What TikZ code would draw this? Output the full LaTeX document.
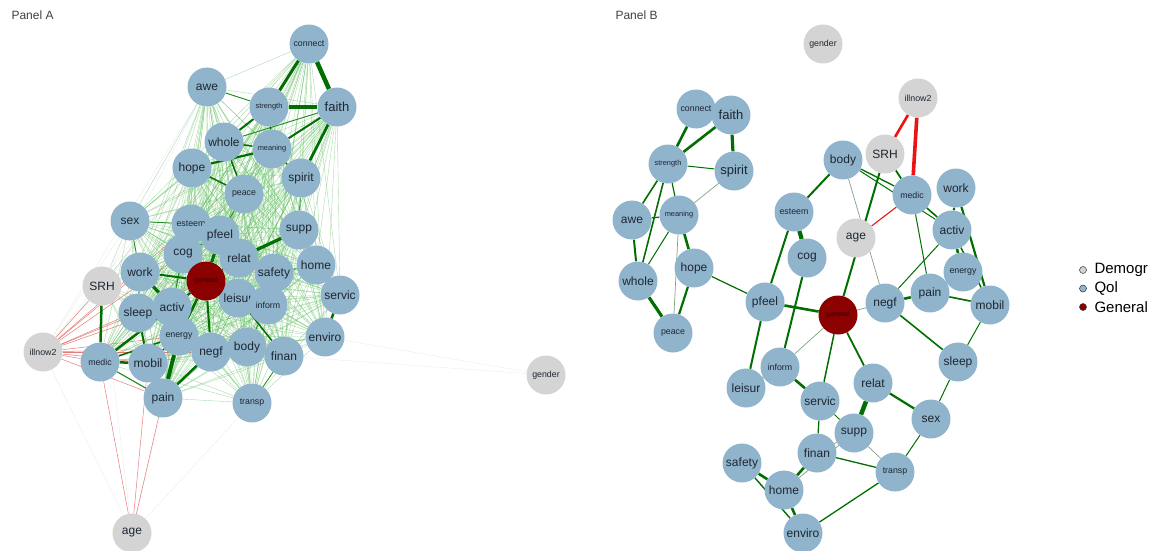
\documentclass[tikz,border=0pt]{standalone}
\usepackage{fontspec}
\setmainfont{Liberation Sans}
\pgfdeclarelayer{background}
\pgfsetlayers{background,main}
\definecolor{qolc}{RGB}{143,180,204}
\definecolor{democ}{RGB}{212,212,212}
\definecolor{genc}{RGB}{139,0,0}
\definecolor{lblc}{RGB}{30,38,50}
\definecolor{egreen}{RGB}{0,110,0}
\definecolor{emid}{RGB}{30,140,30}
\definecolor{elight}{RGB}{100,190,100}
\definecolor{efaint}{RGB}{130,160,130}
\definecolor{ered}{RGB}{235,20,20}
\definecolor{epink}{RGB}{225,90,90}
\tikzset{
  vtx/.style={circle, minimum size=39pt, inner sep=0pt, text=lblc,
              font=\fontsize{12}{12}\selectfont},
  qn/.style={vtx, fill=qolc},
  dn/.style={vtx, fill=democ},
  gn/.style={vtx, fill=genc, text={rgb,255:red,55;green,0;blue,0},
             font=\fontsize{7}{8}\selectfont},
  sm/.style={font=\fontsize{8.8}{9}\selectfont},
  xs/.style={font=\fontsize{7.4}{8}\selectfont},
  pe/.style={draw=egreen, line width=#1pt},
  me/.style={draw=emid, line width=#1pt},
  fe/.style={draw=efaint, line width=#1pt},
  ne/.style={draw=ered, line width=#1pt},
  bgedge/.style={draw=elight, line width=0.4pt, opacity=0.55},
  pinkedge/.style={draw=epink, line width=0.5pt, opacity=0.8},
  ghostedge/.style={draw=black!25, line width=0.3pt, opacity=0.35},
  paneltitle/.style={anchor=base west, text=black!75, font=\fontsize{12}{12}\selectfont},
  keydot/.style={circle, draw=black!80, line width=0.5pt, minimum size=7pt, inner sep=0pt},
  keytext/.style={anchor=west, text=black, font=\fontsize{15}{16}\selectfont}
}
\begin{document}
\begin{tikzpicture}[x=1pt,y=-1pt]
\useasboundingbox (0,0) rectangle (1157,551);

\node[paneltitle] (titleA) at (8,20) {Panel A};
\node[paneltitle] (titleB) at (612,20) {Panel B};

% ---------------- Panel A: vertices ----------------
\node[qn,sm] (aconnect) at (309,44) {connect};
\node[qn] (aawe) at (207,87) {awe};
\node[qn,xs] (astrength) at (269,107) {strength};
\node[qn,font=\fontsize{13}{13}\selectfont] (afaith) at (337,107) {faith};
\node[qn] (awhole) at (224,142) {whole};
\node[qn,xs] (ameaning) at (272,149) {meaning};
\node[qn] (ahope) at (192,168) {hope};
\node[qn] (aspirit) at (301,178) {spirit};
\node[qn,sm] (apeace) at (244,194) {peace};
\node[qn] (asex) at (130,221) {sex};
\node[qn,sm] (aesteem) at (191,224) {esteem};
\node[qn] (asupp) at (299,230) {supp};
\node[qn] (apfeel) at (220,235) {pfeel};
\node[qn] (acog) at (183,254) {cog};
\node[qn] (ahome) at (316,265) {home};
\node[qn] (arelat) at (239,258) {relat};
\node[qn] (asafety) at (274,273) {safety};
\node[qn] (awork) at (140,272) {work};
\node[dn] (aSRH) at (102,286) {SRH};
\node[qn] (aservic) at (340,295) {servic};
\node[qn] (aleisur) at (238,298) {leisur};
\node[gn] (ageneral) at (206,281) {general};
\node[qn,sm] (ainform) at (268,305) {inform};
\node[qn] (asleep) at (138,313) {sleep};
\node[qn] (aactiv) at (172,307) {activ};
\node[qn,sm] (aenergy) at (179,336) {energy};
\node[qn] (aenviro) at (325,337) {enviro};
\node[qn] (abody) at (247,347) {body};
\node[qn] (anegf) at (211,352) {negf};
\node[qn] (afinan) at (284,356) {finan};
\node[dn,sm] (aillnow2) at (43,352) {illnow2};
\node[qn,sm] (amedic) at (100,362) {medic};
\node[qn] (amobil) at (148,363) {mobil};
\node[qn] (apain) at (163,398) {pain};
\node[qn,sm] (atransp) at (252,403) {transp};
\node[dn,sm] (agender) at (546,375) {gender};
\node[dn] (aage) at (132,533) {age};

% ---------------- Panel A: connectors ----------------
\def\qolA{connect,awe,strength,faith,whole,meaning,hope,spirit,peace,sex,esteem,pfeel,supp,cog,relat,safety,home,work,general,leisur,inform,servic,sleep,activ,energy,enviro,negf,body,finan,medic,mobil,pain,transp}
\begin{pgfonlayer}{background}
  % dense web of weak partial correlations
  \foreach \u [count=\i] in \qolA {
    \foreach \v [count=\j] in \qolA {
      \ifnum\i<\j \draw[bgedge] (a\u) -- (a\v); \fi
    }
  }
  % self-rated health to the quality-of-life items
  \foreach \v in {work,sleep,activ,general,energy,mobil,pain,negf,cog,sex,esteem,hope,body,medic}
    \draw[bgedge] (aSRH) -- (a\v);
  % faint links of the demographic items
  \foreach \v in {awe,connect,hope,sex}
    \draw[ghostedge] (aillnow2) -- (a\v);
  \foreach \v in {connect,awe}
    \draw[ghostedge] (aSRH) -- (a\v);
  \foreach \v in {illnow2,transp,energy,SRH}
    \draw[ghostedge] (aage) -- (a\v);
  \foreach \v in {enviro,finan}
    \draw[ghostedge] (agender) -- (a\v);
  % negative links
  \foreach \v in {SRH,medic,mobil,pain,sleep,activ,energy,work,negf,body,general,cog,esteem}
    \draw[pinkedge] (aillnow2) -- (a\v);
  \foreach \v in {medic,pain,mobil}
    \draw[pinkedge] (aage) -- (a\v);
  % moderate positive links
  \foreach \u/\v/\w in {
    awe/strength/0.9, faith/whole/0.9, medic/pain/1.1,
    sleep/work/1.1, pfeel/cog/1, esteem/pfeel/1, relat/safety/1,
    safety/home/1, home/servic/1, body/negf/1, body/finan/1, finan/transp/0.8,
    negf/energy/1, activ/sleep/1.1, sex/work/0.8, sex/esteem/0.8,
    inform/leisur/1, inform/safety/1, spirit/supp/0.8, peace/pfeel/0.8,
    body/inform/0.8, esteem/cog/1, pfeel/relat/1.1, cog/activ/1}
    \draw[me=\w] (a\u) -- (a\v);
  % strong positive links
  \foreach \u/\v/\w in {
    connect/faith/4.5, connect/strength/3, strength/faith/3.2, faith/spirit/2.8,
    faith/meaning/2, strength/whole/2, whole/meaning/1.5, hope/meaning/2.2,
    strength/meaning/1.5, meaning/spirit/1.5, hope/peace/1.5, whole/peace/1.5,
    supp/relat/3.2,
    general/pfeel/3, general/cog/2, general/relat/2.2, general/work/2,
    general/energy/2.5, general/negf/2, general/leisur/1.5, general/activ/2,
    work/activ/3.2, energy/pain/4, negf/pain/2.5, medic/mobil/2.5,
    medic/activ/2.5, medic/energy/1.5, SRH/medic/2.5, sleep/mobil/2,
    mobil/energy/1.5, servic/enviro/2.5, leisur/finan/1.5}
    \draw[pe=\w] (a\u) -- (a\v);
\end{pgfonlayer}

% ---------------- Panel B: vertices ----------------
\node[dn,sm] (bgender) at (823,44) {gender};
\node[dn,sm] (billnow2) at (918,98) {illnow2};
\node[qn,sm] (bconnect) at (696,109) {connect};
\node[qn,font=\fontsize{13}{13}\selectfont] (bfaith) at (731,115) {faith};
\node[dn] (bSRH) at (885,154) {SRH};
\node[qn] (bbody) at (843,160) {body};
\node[qn,xs] (bstrength) at (668,164) {strength};
\node[qn,font=\fontsize{13}{13}\selectfont] (bspirit) at (734,171) {spirit};
\node[qn] (bwork) at (956,188) {work};
\node[qn,sm] (bmedic) at (912,195) {medic};
\node[qn,sm] (besteem) at (794,212) {esteem};
\node[qn] (bawe) at (632,220) {awe};
\node[qn,xs] (bmeaning) at (679,215) {meaning};
\node[dn] (bage) at (856,238) {age};
\node[qn] (bactiv) at (952,230) {activ};
\node[qn] (bcog) at (807,258) {cog};
\node[qn] (bhope) at (694,268) {hope};
\node[qn,sm] (benergy) at (963,272) {energy};
\node[qn] (bwhole) at (638,281) {whole};
\node[qn] (bpain) at (930,293) {pain};
\node[qn] (bpfeel) at (765,302) {pfeel};
\node[qn] (bnegf) at (885,303) {negf};
\node[qn] (bmobil) at (990,305) {mobil};
\node[gn] (bgeneral) at (838,315) {general};
\node[qn,sm] (bpeace) at (673,333) {peace};
\node[qn,sm] (binform) at (780,367) {inform};
\node[qn] (bsleep) at (958,362) {sleep};
\node[qn] (bleisur) at (746,388) {leisur};
\node[qn] (brelat) at (873,383) {relat};
\node[qn] (bservic) at (820,401) {servic};
\node[qn] (bsex) at (931,419) {sex};
\node[qn] (bsupp) at (854,433) {supp};
\node[qn] (bfinan) at (817,453) {finan};
\node[qn] (bsafety) at (742,463) {safety};
\node[qn,sm] (btransp) at (895,472) {transp};
\node[qn] (bhome) at (784,490) {home};
\node[qn] (benviro) at (803,533) {enviro};

% ---------------- Panel B: connectors ----------------
\begin{pgfonlayer}{background}
  \foreach \u/\v/\w in {
    connect/strength/2.6, faith/strength/2.6, faith/spirit/3.2, strength/spirit/1,
    strength/awe/1.6, strength/whole/1.6, strength/meaning/1.2, awe/meaning/1.2,
    awe/whole/2, meaning/whole/1, meaning/hope/2.6, whole/peace/3.2,
    hope/peace/2.2, hope/pfeel/1.2, esteem/body/2, esteem/cog/4.2,
    esteem/pfeel/2, cog/inform/2, pfeel/general/2.6, pfeel/leisur/2,
    SRH/general/2, body/medic/1.3, SRH/medic/1.8, medic/activ/1.6,
    body/activ/1, medic/pain/1, work/activ/2.2, work/mobil/2.2,
    activ/energy/2.6, activ/mobil/1.5, activ/negf/1, energy/pain/0.8,
    negf/pain/2.6, pain/mobil/1.6, negf/sleep/1.6, mobil/sleep/1,
    general/relat/1.8, general/servic/1.5, inform/leisur/1.6, inform/servic/2.6,
    relat/supp/4.5, relat/sex/2.2, sleep/sex/1, sex/transp/1,
    servic/supp/0.9, servic/finan/1.3, finan/transp/1.3, finan/home/2.6,
    home/safety/2.6, home/enviro/2.6, safety/enviro/1.4, enviro/transp/1.3}
    \draw[pe=\w] (b\u) -- (b\v);
  \foreach \u/\v in {meaning/peace, meaning/spirit, body/negf, negf/general,
    general/inform, supp/finan, supp/transp, supp/home}
    \draw[fe=0.7] (b\u) -- (b\v);
  \draw[ne=2.6] (billnow2) -- (bSRH);
  \draw[ne=3.6] (billnow2) -- (bmedic);
  \draw[ne=1.1] (bmedic) -- (bage);
\end{pgfonlayer}

% ---------------- Key ----------------
\node[keydot, fill=democ] (kdemo) at (1083,270) {};
\node[keytext] (tdemo) at (1091,270) {Demogr};
\node[keydot, fill=qolc] (kqol) at (1083,288.5) {};
\node[keytext] (tqol) at (1091,288.5) {Qol};
\node[keydot, fill=genc] (kgen) at (1083,307) {};
\node[keytext] (tgen) at (1091,307) {General};
\end{tikzpicture}
\end{document}
